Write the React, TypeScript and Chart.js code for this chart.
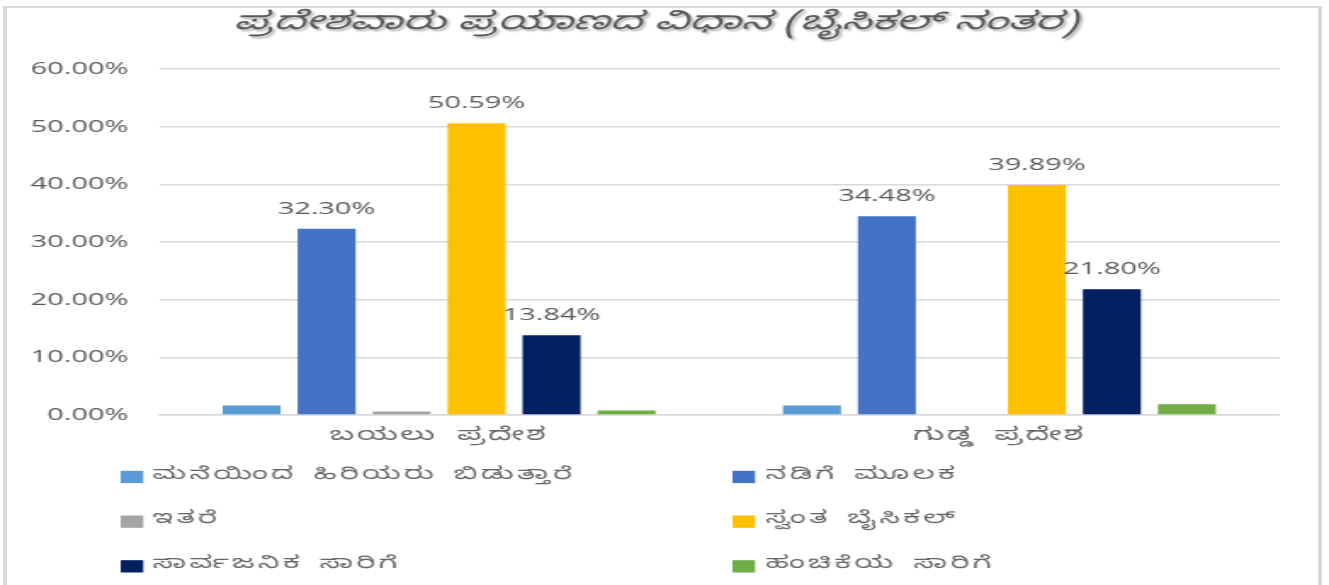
import React, { useEffect, useRef } from 'react';
import { Chart, registerables } from 'chart.js';

Chart.register(...registerables);

// ---- data ----
const chartTitle = 'ಪ್ರದೇಶವಾರು ಪ್ರಯಾಣದ ವಿಧಾನ (ಬೈಸಿಕಲ್ ನಂತರ)';
const categories = ['ಬಯಲು ಪ್ರದೇಶ', 'ಗುಡ್ಡ ಪ್ರದೇಶ'];
const seriesNames = [
  'ಮನೆಯಿಂದ ಹಿರಿಯರು ಬಿಡುತ್ತಾರೆ',
  'ನಡಿಗೆ ಮೂಲಕ',
  'ಇತರೆ',
  'ಸ್ವಂತ ಬೈಸಿಕಲ್',
  'ಸಾರ್ವಜನಿಕ ಸಾರಿಗೆ',
  'ಹಂಚಿಕೆಯ ಸಾರಿಗೆ',
];
const droppedByElders = [1.65, 1.65];
const onFoot = [32.3, 34.48];
const others = [0.62, 0];
const ownBicycle = [50.59, 39.89];
const publicTransport = [13.84, 21.8];
const sharedTransport = [0.8, 1.85];
const seriesValues = [droppedByElders, onFoot, others, ownBicycle, publicTransport, sharedTransport];
const seriesColors = ['#5B9BD5', '#4472C4', '#A5A5A5', '#FFC000', '#002060', '#70AD47'];
const showValueLabels = [false, true, false, true, true, false];
const yTickValues = [0, 10, 20, 30, 40, 50, 60];

// ---- layout (logical canvas px; canvas is stretched horizontally) ----
const STRETCH = 1.7;
const PAGE_W = 1329;
const PAGE_H = 585;
const LOGICAL_W = Math.round(PAGE_W / STRETCH);

const KN_FONT = "'Noto Sans Kannada', 'Noto Sans', sans-serif";
const NUM_FONT = "'Open Sans', 'Liberation Sans', sans-serif";
const TEXT_COLOR = '#595959';

const overlayPlugin = {
  id: 'overlay',
  afterDatasetsDraw(chart: any) {
    const ctx = chart.ctx;
    ctx.save();
    ctx.font = `17px ${NUM_FONT}`;
    ctx.fillStyle = TEXT_COLOR;
    ctx.textAlign = 'center';
    ctx.textBaseline = 'middle';
    chart.data.datasets.forEach((ds: any, i: number) => {
      if (!showValueLabels[i]) return;
      const meta = chart.getDatasetMeta(i);
      meta.data.forEach((bar: any, j: number) => {
        const v = ds.data[j] as number;
        ctx.fillText(v.toFixed(2) + '%', bar.x, bar.y - 20);
      });
    });
    ctx.restore();
  },
  afterDraw(chart: any) {
    const ctx = chart.ctx;
    ctx.save();
    // title
    ctx.font = `italic 25px ${KN_FONT}`;
    ctx.textAlign = 'center';
    ctx.textBaseline = 'middle';
    ctx.shadowColor = 'rgba(0,0,0,0.3)';
    ctx.shadowOffsetX = 1.5;
    ctx.shadowOffsetY = 2;
    ctx.shadowBlur = 2;
    ctx.fillStyle = TEXT_COLOR;
    ctx.fillText(chartTitle, 386, 26);
    ctx.restore();

    // category labels under the x axis
    const xScale = chart.scales.x;
    ctx.save();
    ctx.font = `18px ${KN_FONT}`;
    (ctx as any).letterSpacing = '1.5px';
    (ctx as any).wordSpacing = '5px';
    ctx.textAlign = 'center';
    ctx.textBaseline = 'middle';
    ctx.fillStyle = '#666666';
    (chart.data.labels as string[]).forEach((lab, i) => {
      ctx.fillText(lab, xScale.getPixelForTick(i), xScale.top + 23);
    });
    ctx.restore();

    // legend: 2 columns x 3 rows
    ctx.save();
    ctx.font = `17px ${KN_FONT}`;
    (ctx as any).letterSpacing = '2px';
    (ctx as any).wordSpacing = '3px';
    ctx.textAlign = 'left';
    ctx.textBaseline = 'middle';
    const colBox = [71, 431];
    const colText = [89.8, 450.6];
    const rowY = [477, 521.7, 566.4];
    chart.data.datasets.forEach((ds: any, i: number) => {
      const col = i % 2;
      const row = Math.floor(i / 2);
      ctx.fillStyle = ds.backgroundColor;
      ctx.fillRect(colBox[col], rowY[row] - 6.2, 13.3, 12.3);
      ctx.fillStyle = '#666666';
      ctx.fillText(ds.label, colText[col], rowY[row]);
    });
    ctx.restore();
  },
};

export default function App() {
  const ref = useRef<HTMLCanvasElement | null>(null);

  useEffect(() => {
    if (!ref.current) return;
    const chart = new Chart(ref.current, {
      type: 'bar',
      data: {
        labels: categories,
        datasets: seriesNames.map((name, i) => ({
          label: name,
          data: seriesValues[i],
          backgroundColor: seriesColors[i],
          borderWidth: 0,
          categoryPercentage: 0.803,
          barPercentage: 0.773,
        })),
      },
      options: {
        responsive: false,
        animation: false,
        devicePixelRatio: 1,
        layout: { padding: { top: 69, right: LOGICAL_W - 752.9, bottom: 0, left: 0 } },
        plugins: {
          legend: { display: false },
          title: { display: false },
          tooltip: { enabled: false },
        },
        scales: {
          x: {
            grid: { display: false, drawTicks: false },
            border: { display: true, color: '#d9d9d9', width: 1.5 },
            ticks: { display: false },
            afterFit: (scale: any) => {
              scale.height = 170;
            },
          },
          y: {
            min: 0,
            max: 60,
            afterBuildTicks: (scale: any) => {
              scale.ticks = yTickValues.map((v) => ({ value: v }));
            },
            grid: { color: '#d9d9d9', lineWidth: 1.5, drawTicks: false },
            border: { display: false },
            ticks: {
              font: { size: 17, family: NUM_FONT },
              color: TEXT_COLOR,
              padding: 18,
              callback: (v: any) => Number(v).toFixed(2) + '%',
            },
            afterFit: (scale: any) => {
              scale.width = 93.5;
            },
          },
        },
      },
      plugins: [overlayPlugin],
    });
    return () => chart.destroy();
  }, []);

  return (
    <div
      style={{
        position: 'fixed',
        left: 0,
        top: 0,
        width: PAGE_W,
        height: PAGE_H,
        overflow: 'hidden',
        background: '#fff',
      }}
    >
      <div
        style={{
          position: 'absolute',
          left: 3,
          top: 6,
          width: 1319,
          height: 700,
          boxSizing: 'border-box',
          borderLeft: '4px solid #d9d9d9',
          borderRight: '4px solid #d9d9d9',
          borderTop: '2px solid #d9d9d9',
        }}
      />
      <canvas
        ref={ref}
        width={LOGICAL_W}
        height={PAGE_H}
        style={{ position: 'absolute', left: 0, top: 0, width: PAGE_W + 'px', height: PAGE_H + 'px' }}
      />
    </div>
  );
}
